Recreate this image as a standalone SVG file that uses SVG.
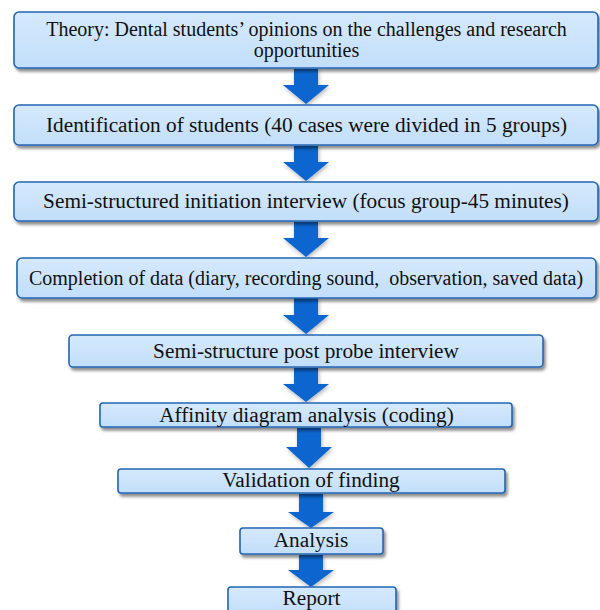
<svg xmlns="http://www.w3.org/2000/svg" width="600" height="610" viewBox="0 0 600 610">
<defs>
<linearGradient id="bg" x1="0" y1="0" x2="0" y2="1">
<stop offset="0" stop-color="#d5e9fd"/>
<stop offset="1" stop-color="#c2defa"/>
</linearGradient>
<filter id="sh" x="-10%" y="-30%" width="120%" height="170%">
<feGaussianBlur in="SourceAlpha" stdDeviation="1.8"/>
<feOffset dx="2" dy="3" result="b"/>
<feComponentTransfer><feFuncA type="linear" slope="0.45"/></feComponentTransfer>
<feMerge><feMergeNode/><feMergeNode in="SourceGraphic"/></feMerge>
</filter>
<filter id="ash" x="-30%" y="-30%" width="160%" height="160%">
<feGaussianBlur in="SourceAlpha" stdDeviation="2"/>
<feOffset dx="1" dy="2"/>
<feComponentTransfer><feFuncA type="linear" slope="0.3"/></feComponentTransfer>
<feMerge><feMergeNode/><feMergeNode in="SourceGraphic"/></feMerge>
</filter>
</defs>
<style>
.box{fill:url(#bg);stroke:#2465b3;stroke-width:1.6;filter:url(#sh)}
.t{font-family:"Liberation Serif","Times New Roman",serif;font-size:21.3px;fill:#111;text-anchor:middle}
.s{font-size:20px}
.arr{fill:#0a66cf;filter:url(#ash)}
</style>
<g id="connectors">
<polygon class="arr" points="294,69 318,69 318,85 329,85 306,104 283,85 294,85"/>
<polygon class="arr" points="294,146 318,146 318,162 329,162 306,181 283,162 294,162"/>
<polygon class="arr" points="294,222 318,222 318,238 329,238 306,257 283,238 294,238"/>
<polygon class="arr" points="294,298 318,298 318,315 329,315 306,334 283,315 294,315"/>
<polygon class="arr" points="294,368 318,368 318,384 329,384 306,402 283,384 294,384"/>
<polygon class="arr" points="297,428 321,428 321,447 332,447 309,468 286,447 297,447"/>
<polygon class="arr" points="299,494 323,494 323,512 334,512 311,528 288,512 299,512"/>
<polygon class="arr" points="299,555 323,555 323,570 334,570 311,587 288,570 299,570"/>
</g>
<g id="n1">
<rect class="box" x="14" y="12" width="584" height="56" rx="5"/>
<text class="t s" x="306.5" y="36">Theory: Dental students’ opinions on the challenges and research</text>
<text class="t s" x="306.5" y="57">opportunities</text>
</g>
<g id="n2">
<rect class="box" x="14" y="105" width="584" height="40" rx="5"/>
<text class="t" x="306.5" y="132">Identification of students (40 cases were divided in 5 groups)</text>
</g>
<g id="n3">
<rect class="box" x="14" y="182" width="584" height="39" rx="5"/>
<text class="t" x="306" y="208">Semi-structured initiation interview (focus group-45 minutes)</text>
</g>
<g id="n4">
<rect class="box" x="17" y="258" width="579" height="40" rx="5"/>
<text class="t s" x="306" y="285" xml:space="preserve">Completion of data (diary, recording sound,  observation, saved data)</text>
</g>
<g id="n5">
<rect class="box" x="69" y="335" width="474" height="32" rx="4"/>
<text class="t" x="306" y="358">Semi-structure post probe interview</text>
</g>
<g id="n6">
<rect class="box" x="100" y="403" width="412" height="24" rx="3"/>
<text class="t" x="306.5" y="422">Affinity diagram analysis (coding)</text>
</g>
<g id="n7">
<rect class="box" x="118" y="469" width="387" height="24" rx="3"/>
<text class="t" x="311" y="487">Validation of finding</text>
</g>
<g id="n8">
<rect class="box" x="240" y="528" width="143" height="26" rx="3"/>
<text class="t" x="311" y="547">Analysis</text>
</g>
<g id="n9">
<rect class="box" x="228" y="587" width="168" height="30" rx="3"/>
<text class="t" x="311.5" y="605">Report</text>
</g>
</svg>
